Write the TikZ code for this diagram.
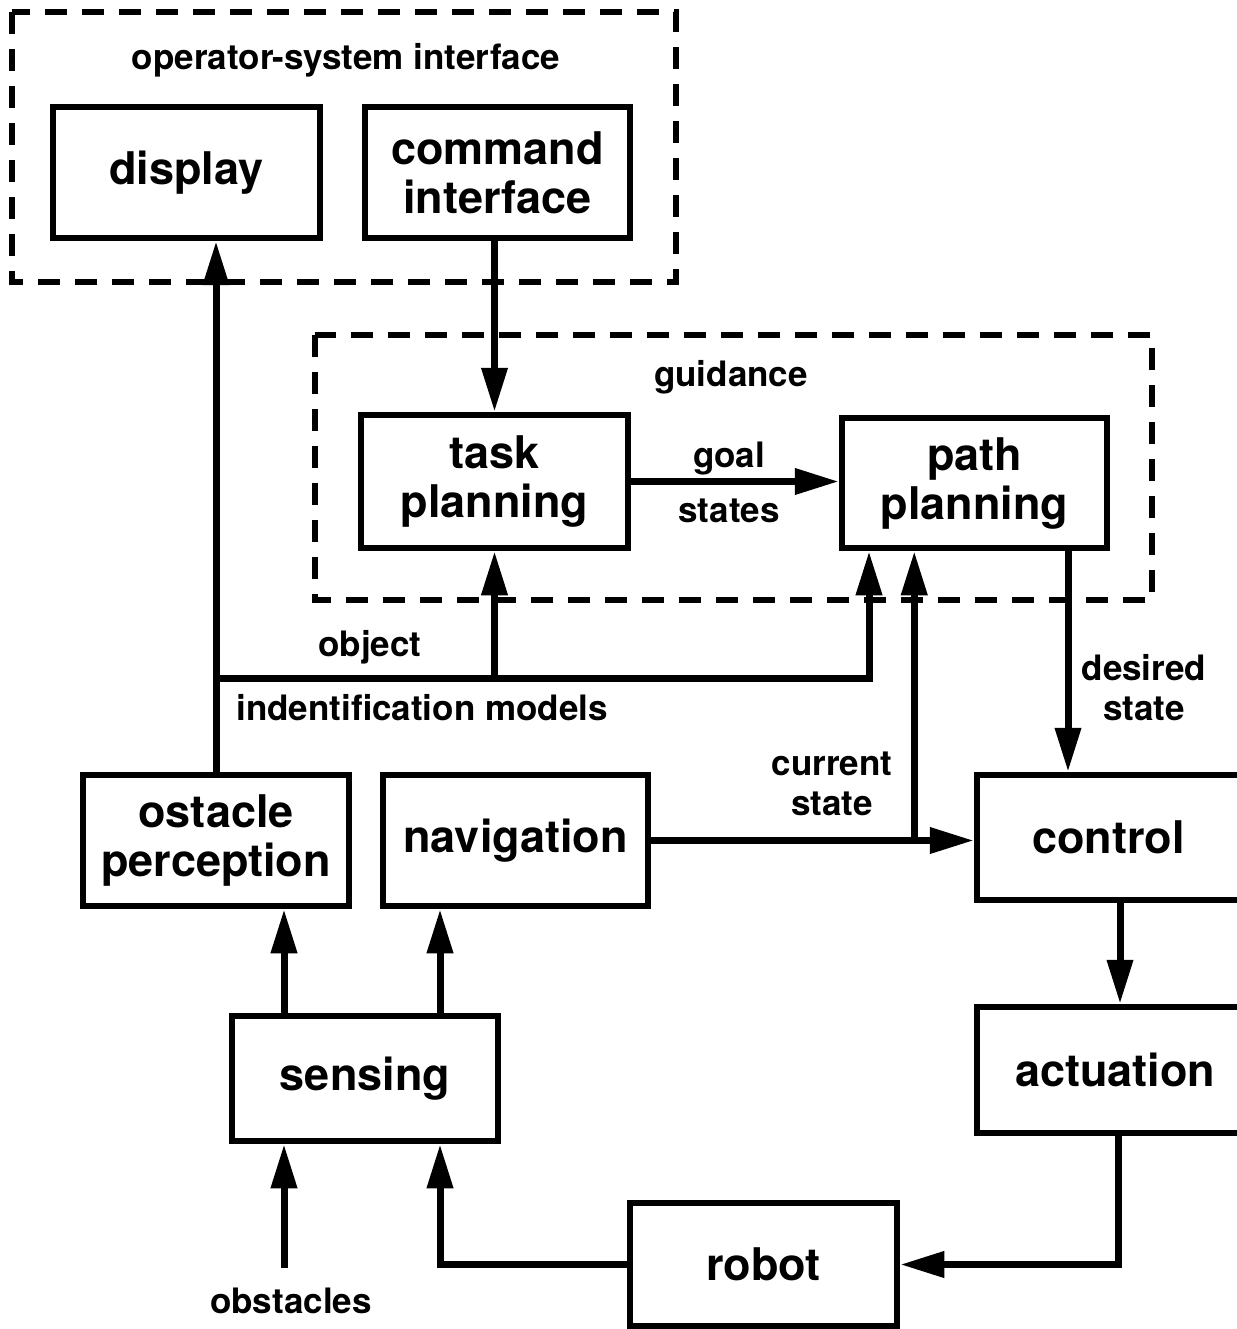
\documentclass[tikz,border=0pt]{standalone}
\usepackage{fontspec}
\setmainfont{TeX Gyre Heros}
\usetikzlibrary{arrows.meta}
\begin{document}
\begin{tikzpicture}[x=1pt,y=-1pt,
  blk/.style={draw, line width=6.5pt, inner sep=0pt, align=center,
    font=\fontsize{45}{49}\selectfont\bfseries},
  lbl/.style={inner sep=0pt, anchor=base, align=center,
    font=\fontsize{35}{40}\selectfont\bfseries},
  grp/.style={draw, line width=6pt, dash pattern=on 22pt off 15pt},
  arr/.style={line width=7pt, -{Triangle[length=44pt,width=25pt]}}]
\useasboundingbox (0,0) rectangle (1236,1329);

% dashed groups
\draw[grp] (12,12) rectangle (676,282);
\draw[grp] (315,335) rectangle (1152,600);

% blocks
\node[blk, minimum width=267pt, minimum height=131pt] (disp) at (186.5,172.5) {display};
\node[blk, minimum width=265pt, minimum height=131pt] (cmd) at (497.5,172.5) {command\\interface};
\node[blk, minimum width=267pt, minimum height=133pt] (task) at (494.5,481.5) {task\\planning};
\node[blk, minimum width=265pt, minimum height=130pt] (path) at (974.5,483) {path\\planning};
\node[blk, minimum width=266pt, minimum height=131pt] (obp) at (216,840.5) {ostacle\\perception};
\node[blk, minimum width=265pt, minimum height=131pt] (nav) at (515.5,840.5) {navigation};
\node[blk, minimum width=263pt, minimum height=125pt] (ctrl) at (1108.5,837.5) {control};
\node[blk, minimum width=276pt, minimum height=126pt] (act) at (1115,1070) {actuation};
\node[blk, minimum width=266pt, minimum height=125pt] (sens) at (365,1078.5) {sensing};
\node[blk, minimum width=267pt, minimum height=123pt] (rob) at (763.5,1264.5) {robot};

% labels (base anchor sits on the last line)
\node[lbl] (osi) at (346,70) {operator-system interface};
\node[lbl] (gd) at (731,386) {guidance};
\node[lbl] (goal) at (729,467) {goal};
\node[lbl] (sts) at (729,522) {states};
\node[lbl] (objl) at (370,656) {object};
\node[lbl] (idm) at (422,720) {indentification models};
\node[lbl] (dsl) at (1144,720) {desired\\state};
\node[lbl] (csl) at (832,815) {current\\state};
\node[lbl] (obs) at (291,1313) {obstacles};

% helper points
\coordinate (ol) at (216,678);
\coordinate (or) at (869,678);
\path (nav.east) ++(263,0) coordinate (cs);
\path (path.south) ++(93.5,0) coordinate (ds);
\path (ctrl.south) ++(11.5,0) coordinate (ca);
\path (act.south) ++(3,0) coordinate (ar);
\path (sens.south) ++(75,0) coordinate (sn);
\path (sens.north) ++(-81,0) coordinate (so);
\coordinate (ob0) at (284,1268);

% connectors
\draw[arr] (obp.north) -- (obp.north |- disp.south);
\draw[arr] (cmd.south -| task.north) -- (task.north);
\draw[arr] (task.east) -- (task.east -| path.west);
\draw[arr] (ol) -- (or) -- (or |- path.south);
\draw[arr] (task.south |- ol) -- (task.south);
\draw[arr] (nav.east) -- (nav.east -| ctrl.west);
\draw[arr] (cs) -- (cs |- path.south);
\draw[arr] (ds) -- (ds |- ctrl.north);
\draw[arr] (ca) -- (ca |- act.north);
\draw[arr] (ar) -- (ar |- rob.east) -- (rob.east);
\draw[arr] (rob.west) -- (rob.west -| sn) -- (sn);
\draw[arr] (so) -- (so |- obp.south);
\draw[arr] (sn |- sens.north) -- (sn |- nav.south);
\draw[arr] (ob0) -- (ob0 |- sens.south);
\end{tikzpicture}
\end{document}
